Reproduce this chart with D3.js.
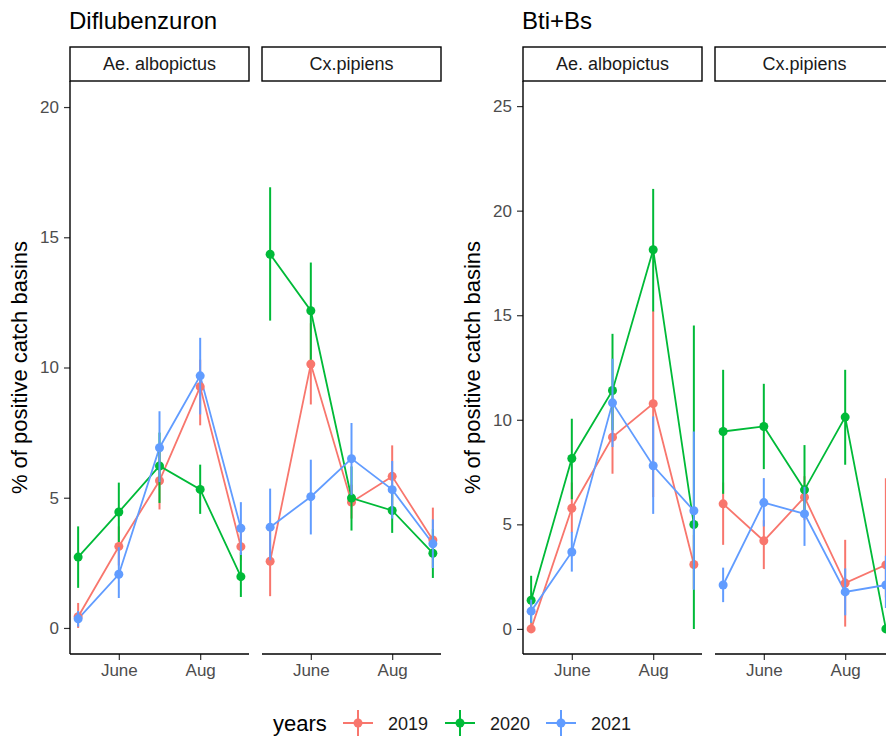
<!DOCTYPE html>
<html lang="en">
<head>
    <meta charset="UTF-8">
    <title>Positive catch basins by month</title>
    <script src="https://d3js.org/d3.v7.min.js"></script>
    <style>
        body {
            margin: 0;
            background: white;
        }

        text {
            font-family: "Liberation Sans", Arial, sans-serif;
        }

        .tick-label {
            font-size: 17px;
            fill: #4d4d4d;
        }

        .strip-text {
            font-size: 18px;
            fill: #1a1a1a;
        }
    </style>
</head>
<body>
    <svg id="chart" width="886" height="742"></svg>
    <script>
        const months = [5, 6, 7, 8, 9];
        const monthTicks = [6, 8];
        const monthLabels = ["June", "Aug"];
        const years = ["2019", "2020", "2021"];
        const colors = ["#F8766D", "#00BA38", "#619CFF"];
        const species = ["Ae. albopictus", "Cx.pipiens"];

        // Diflubenzuron, Ae. albopictus (one row per year)
        const difluAlboMean = [[0.43, 3.13, 5.65, 9.26, 3.12], [2.72, 4.45, 6.22, 5.32, 1.97], [0.35, 2.06, 6.92, 9.68, 3.83]];
        const difluAlboLow = [[0.0, 2.4, 4.55, 7.78, 2.6], [1.54, 3.3, 4.8, 4.38, 1.19], [0.05, 1.15, 5.6, 8.2, 2.8]];
        const difluAlboHigh = [[0.96, 3.9, 6.8, 10.3, 3.7], [3.9, 5.58, 7.5, 6.27, 2.9], [0.65, 3.1, 8.32, 11.14, 4.83]];

        // Diflubenzuron, Cx.pipiens
        const difluCxMean = [[2.56, 10.13, 4.83, 5.82, 3.38], [14.35, 12.18, 4.99, 4.51, 2.87], [3.87, 5.04, 6.5, 5.31, 3.23]];
        const difluCxLow = [[1.22, 8.58, 4.2, 4.7, 2.3], [11.8, 10.3, 3.74, 3.65, 1.92], [2.6, 3.59, 5.1, 4.2, 2.3]];
        const difluCxHigh = [[3.9, 11.7, 5.5, 7.01, 4.62], [16.92, 14.03, 6.2, 5.4, 3.8], [5.35, 6.46, 7.87, 6.41, 4.17]];

        // Bti+Bs, Ae. albopictus
        const btiAlboMean = [[0.0, 5.77, 9.17, 10.77, 3.08], [1.37, 8.15, 11.4, 18.13, 4.99], [0.85, 3.68, 10.81, 7.8, 5.65]];
        const btiAlboLow = [[0.0, 4.6, 7.42, 6.3, 1.9], [0.3, 6.2, 9.5, 15.18, 0.0], [0.3, 2.74, 8.7, 5.5, 1.87]];
        const btiAlboHigh = [[0.3, 7.0, 10.9, 15.2, 4.5], [2.54, 10.05, 14.11, 21.04, 14.51], [1.4, 4.64, 12.92, 10.16, 9.44]];

        // Bti+Bs, Cx.pipiens
        const btiCxMean = [[5.98, 4.21, 6.3, 2.19, 3.06], [9.44, 9.68, 6.65, 10.13, 0.0], [2.1, 6.04, 5.5, 1.77, 2.1]];
        const btiCxLow = [[4.02, 2.86, 5.2, 0.11, 1.5], [6.46, 7.64, 5.5, 7.85, 0.0], [1.28, 4.9, 3.97, 0.65, 1.0]];
        const btiCxHigh = [[7.0, 5.2, 7.3, 4.26, 7.2], [12.39, 11.72, 8.79, 12.39, 0.0], [2.93, 7.21, 6.8, 2.89, 3.5]];

        const groups = [
            {
                title: "Diflubenzuron", left: 70, yDomain: [-1, 21], yTicks: [0, 5, 10, 15, 20],
                panels: [
                    { mean: difluAlboMean, low: difluAlboLow, high: difluAlboHigh },
                    { mean: difluCxMean, low: difluCxLow, high: difluCxHigh }
                ]
            },
            {
                title: "Bti+Bs", left: 523, yDomain: [-1.2, 26.2], yTicks: [0, 5, 10, 15, 20, 25],
                panels: [
                    { mean: btiAlboMean, low: btiAlboLow, high: btiAlboHigh },
                    { mean: btiCxMean, low: btiCxLow, high: btiCxHigh }
                ]
            }
        ];

        const svg = d3.select("#chart");
        const panelTop = 81;
        const panelBottom = 654;
        const panelWidth = 179;
        const panelGap = 13;
        const stripHeight = 34;

        groups.forEach(group => {
            const y = d3.scaleLinear()
                .domain(group.yDomain)
                .range([panelBottom, panelTop]);

            svg.append("text")
                .attr("x", group.left - 1)
                .attr("y", 29)
                .attr("font-size", "24px")
                .attr("fill", "black")
                .text(group.title);

            svg.append("text")
                .attr("transform", `translate(${group.left - 43},${(panelTop + panelBottom) / 2}) rotate(-90)`)
                .attr("text-anchor", "middle")
                .attr("font-size", "22px")
                .attr("fill", "black")
                .text("% of positive catch basins");

            // y axis on the first panel only
            const yAxis = svg.append("g")
                .attr("transform", `translate(${group.left},0)`)
                .call(d3.axisLeft(y).tickValues(group.yTicks).tickSize(6).tickPadding(5));
            yAxis.select(".domain").remove();
            yAxis.selectAll(".tick line").attr("stroke", "#333").attr("stroke-width", 1.2);
            yAxis.selectAll(".tick text").attr("class", "tick-label").attr("font-family", null).attr("font-size", null);
            yAxis.append("line")
                .attr("x1", 0).attr("x2", 0)
                .attr("y1", panelTop).attr("y2", panelBottom)
                .attr("stroke", "black").attr("stroke-width", 1.4);

            group.panels.forEach((panel, p) => {
                const x0 = group.left + p * (panelWidth + panelGap);
                const x = d3.scaleLinear()
                    .domain([4.8, 9.2])
                    .range([x0, x0 + panelWidth]);

                // strip
                svg.append("rect")
                    .attr("x", x0)
                    .attr("y", panelTop - stripHeight)
                    .attr("width", panelWidth)
                    .attr("height", stripHeight)
                    .attr("fill", "white")
                    .attr("stroke", "black")
                    .attr("stroke-width", 1.4);
                svg.append("text")
                    .attr("class", "strip-text")
                    .attr("x", x0 + panelWidth / 2)
                    .attr("y", panelTop - stripHeight / 2 + 6)
                    .attr("text-anchor", "middle")
                    .text(species[p]);

                // x axis
                const xAxis = svg.append("g")
                    .attr("transform", `translate(0,${panelBottom})`)
                    .call(d3.axisBottom(x).tickValues(monthTicks)
                        .tickFormat((d, i) => monthLabels[i]).tickSize(6).tickPadding(4));
                xAxis.select(".domain").remove();
                xAxis.selectAll(".tick line").attr("stroke", "#333").attr("stroke-width", 1.2);
                xAxis.selectAll(".tick text").attr("class", "tick-label").attr("font-family", null).attr("font-size", null);
                xAxis.append("line")
                    .attr("x1", x0).attr("x2", x0 + panelWidth)
                    .attr("y1", 0).attr("y2", 0)
                    .attr("stroke", "black").attr("stroke-width", 1.4);

                const line = d3.line()
                    .x(d => x(d.month))
                    .y(d => y(d.mean));

                const series = years.map((yr, i) => months.map((m, j) => ({
                    month: m,
                    mean: panel.mean[i][j],
                    low: panel.low[i][j],
                    high: panel.high[i][j]
                })));

                const g = svg.append("g");
                series.forEach((s, i) => {
                    g.append("path")
                        .datum(s)
                        .attr("fill", "none")
                        .attr("stroke", colors[i])
                        .attr("stroke-width", 1.8)
                        .attr("d", line);
                });
                series.forEach((s, i) => {
                    const sg = g.append("g");
                    sg.selectAll("line")
                        .data(s)
                        .enter().append("line")
                        .attr("x1", d => x(d.month))
                        .attr("x2", d => x(d.month))
                        .attr("y1", d => y(d.low))
                        .attr("y2", d => y(d.high))
                        .attr("stroke", colors[i])
                        .attr("stroke-width", 2);
                    sg.selectAll("circle")
                        .data(s)
                        .enter().append("circle")
                        .attr("cx", d => x(d.month))
                        .attr("cy", d => y(d.mean))
                        .attr("r", 4.5)
                        .attr("fill", colors[i]);
                });
            });
        });

        // legend
        const legend = svg.append("g");
        legend.append("text")
            .attr("x", 273)
            .attr("y", 731)
            .attr("font-size", "22px")
            .attr("fill", "black")
            .text("years");

        const legendX = [358, 460, 561];
        years.forEach((yr, i) => {
            const cx = legendX[i];
            const cy = 723;
            legend.append("line")
                .attr("x1", cx - 15).attr("x2", cx + 15)
                .attr("y1", cy).attr("y2", cy)
                .attr("stroke", colors[i]).attr("stroke-width", 2);
            legend.append("line")
                .attr("x1", cx).attr("x2", cx)
                .attr("y1", cy - 13).attr("y2", cy + 13)
                .attr("stroke", colors[i]).attr("stroke-width", 2);
            legend.append("circle")
                .attr("cx", cx).attr("cy", cy).attr("r", 4.5)
                .attr("fill", colors[i]);
            legend.append("text")
                .attr("x", cx + 30)
                .attr("y", cy + 6.5)
                .attr("font-size", "18px")
                .attr("fill", "#1a1a1a")
                .text(yr);
        });
    </script>
</body>
</html>
